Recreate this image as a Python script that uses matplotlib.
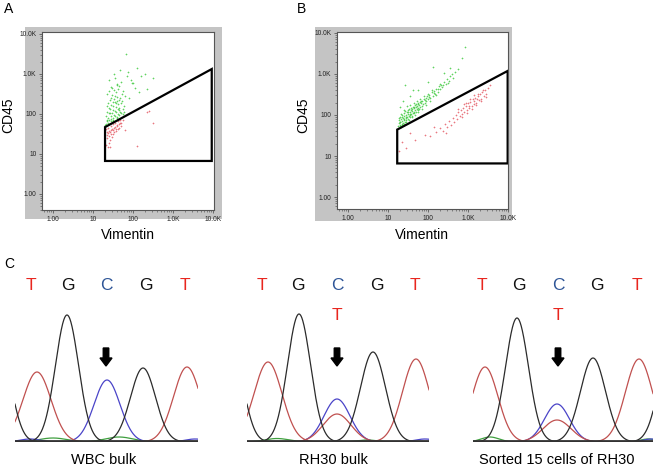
import numpy as np
import matplotlib.pyplot as plt
from matplotlib.patches import Rectangle, Polygon
from matplotlib.ticker import FixedLocator, LogLocator, NullFormatter

plt.rcParams['font.family'] = ['Liberation Sans', 'DejaVu Sans']

W, H = 658, 466

# --- flow cytometry data (log10 Vimentin, log10 CD45) ---
tick_vals = [1, 10, 100, 1000, 10000]
tick_labels = ['1.00', '10', '100', '1.0K', '10.0K']

gate_A = [(20, 47), (9300, 1330), (9300, 6.7), (20, 6.7)]
gate_B = [(17, 44), (9800, 1180), (9800, 6.6), (17, 6.6)]

green_A = [(1.32, 1.76), (1.35, 1.82), (1.38, 1.90), (1.41, 1.84), (1.44, 1.95), (1.47, 2.02),
           (1.50, 1.86), (1.53, 1.98), (1.56, 2.08), (1.59, 1.93), (1.62, 2.12), (1.65, 1.97),
           (1.36, 2.05), (1.40, 2.15), (1.45, 2.22), (1.49, 2.10), (1.54, 2.30), (1.58, 2.18),
           (1.63, 2.25), (1.68, 2.04), (1.33, 1.95), (1.37, 2.28), (1.42, 2.35), (1.46, 2.40),
           (1.51, 2.20), (1.55, 2.45), (1.60, 2.32), (1.66, 2.15), (1.71, 2.02), (1.34, 2.50),
           (1.39, 2.58), (1.43, 2.12), (1.48, 2.65), (1.52, 2.38), (1.57, 2.55), (1.61, 2.42),
           (1.64, 2.70), (1.69, 2.28), (1.74, 2.00), (1.31, 1.72), (1.38, 1.78), (1.44, 1.83),
           (1.50, 1.91), (1.56, 1.94), (1.62, 2.00), (1.35, 2.20), (1.41, 2.02), (1.47, 2.48),
           (1.53, 2.60), (1.59, 2.75), (1.65, 2.36), (1.72, 2.50), (1.78, 2.20), (1.40, 2.85),
           (1.46, 2.68), (1.55, 2.90), (1.63, 2.62), (1.70, 2.80), (1.80, 2.45), (1.85, 2.95),
           (1.52, 3.00), (1.60, 2.72), (1.68, 3.10), (1.75, 2.58), (1.90, 2.40), (1.95, 2.85),
           (2.05, 2.65), (1.88, 3.05), (2.10, 3.15), (2.20, 2.95), (2.35, 2.62), (2.50, 2.90),
           (1.82, 3.50), (1.98, 2.78), (2.15, 2.55), (1.45, 1.88), (1.58, 2.05), (1.76, 2.12),
           (2.30, 3.00), (2.00, 2.78), (1.43, 2.03), (1.57, 2.27), (1.67, 2.40), (1.73, 2.33),
           (1.36, 1.86), (1.61, 1.90), (1.49, 2.31), (1.77, 2.04), (1.64, 2.10), (1.51, 1.82)]
red_A = [(1.32, 1.62), (1.35, 1.55), (1.38, 1.65), (1.41, 1.58), (1.44, 1.70), (1.47, 1.62),
         (1.50, 1.74), (1.53, 1.66), (1.56, 1.78), (1.59, 1.70), (1.62, 1.82), (1.65, 1.75),
         (1.68, 1.84), (1.71, 1.78), (1.74, 1.86), (1.34, 1.48), (1.37, 1.52), (1.40, 1.45),
         (1.43, 1.55), (1.46, 1.50), (1.49, 1.60), (1.52, 1.56), (1.55, 1.68), (1.58, 1.63),
         (1.61, 1.72), (1.64, 1.66), (1.67, 1.77), (1.70, 1.70), (1.36, 1.40), (1.42, 1.35),
         (1.48, 1.42), (1.39, 1.28), (1.45, 1.60), (1.51, 1.50), (1.57, 1.58), (1.63, 1.62),
         (1.37, 1.17), (1.33, 1.22), (1.42, 1.18), (2.10, 1.20), (2.50, 1.78), (2.35, 2.05),
         (2.40, 2.08), (1.80, 1.60)]

green_B = [(1.26, 1.72), (1.27, 1.80), (1.28, 1.88), (1.29, 1.75), (1.30, 1.95), (1.31, 1.83),
           (1.32, 1.70), (1.33, 1.90), (1.34, 1.78), (1.35, 2.00), (1.36, 1.86), (1.37, 1.93),
           (1.38, 1.80), (1.39, 2.05), (1.40, 1.88), (1.41, 1.97), (1.42, 1.84), (1.43, 2.10),
           (1.44, 1.92), (1.45, 2.00), (1.46, 1.87), (1.47, 2.06), (1.48, 1.95), (1.49, 2.12),
           (1.50, 1.90), (1.51, 2.02), (1.52, 1.98), (1.53, 2.15), (1.54, 1.95), (1.55, 2.08),
           (1.56, 2.00), (1.57, 2.18), (1.58, 2.03), (1.59, 2.10), (1.60, 1.98), (1.61, 2.14),
           (1.62, 2.05), (1.63, 2.20), (1.64, 2.08), (1.65, 2.16), (1.66, 2.04), (1.67, 2.24),
           (1.68, 2.12), (1.69, 2.19), (1.70, 2.08), (1.71, 2.26), (1.72, 2.15), (1.73, 2.22),
           (1.74, 2.12), (1.75, 2.30), (1.76, 2.18), (1.77, 2.25), (1.78, 2.14), (1.79, 2.32),
           (1.80, 2.20), (1.82, 2.28), (1.84, 2.22), (1.86, 2.35), (1.88, 2.26), (1.90, 2.38),
           (1.92, 2.30), (1.94, 2.42), (1.96, 2.34), (1.98, 2.45), (2.00, 2.38), (2.03, 2.48),
           (2.06, 2.42), (2.09, 2.55), (2.12, 2.47), (2.15, 2.58), (2.18, 2.52), (2.21, 2.64),
           (2.24, 2.57), (2.27, 2.70), (2.30, 2.62), (2.33, 2.74), (2.36, 2.68), (2.40, 2.80),
           (2.44, 2.75), (2.48, 2.88), (2.52, 2.82), (2.56, 2.95), (2.62, 2.90), (2.68, 3.05),
           (2.75, 3.12), (1.27, 1.92), (1.30, 1.72), (1.33, 2.02), (1.36, 1.76), (1.40, 2.12),
           (1.44, 1.82), (1.48, 2.22), (1.52, 1.88), (1.56, 2.25), (1.60, 1.95), (1.64, 2.30),
           (1.68, 2.00), (1.72, 2.35), (1.76, 2.08), (1.80, 2.40), (1.85, 2.15), (1.90, 2.45),
           (1.95, 2.25), (2.00, 2.52), (2.05, 2.35), (2.10, 2.60), (2.20, 2.48), (2.30, 2.75),
           (1.43, 2.73), (1.63, 2.60), (2.13, 3.17), (1.55, 2.45), (1.38, 2.35), (2.85, 3.39),
           (2.92, 3.66), (2.55, 3.15), (2.40, 3.02), (1.30, 2.20), (1.75, 2.60), (2.00, 2.80),
           (1.29, 1.84), (1.34, 1.96), (1.39, 1.91), (1.45, 1.94), (1.51, 2.08), (1.58, 2.12),
           (1.66, 2.20), (1.74, 2.27), (1.83, 2.33), (1.93, 2.36), (2.02, 2.44), (2.14, 2.53),
           (2.26, 2.63), (2.38, 2.72), (2.50, 2.78), (2.60, 3.00), (1.41, 1.79), (1.54, 2.02)]
red_B = [(2.30, 1.68), (2.38, 1.62), (2.42, 1.78), (2.48, 1.70), (2.52, 1.85), (2.58, 1.75),
         (2.62, 1.92), (2.66, 1.82), (2.70, 2.00), (2.73, 1.90), (2.76, 2.08), (2.79, 1.97),
         (2.82, 2.12), (2.85, 2.02), (2.88, 2.18), (2.91, 2.06), (2.94, 2.22), (2.97, 2.12),
         (3.00, 2.28), (3.03, 2.16), (3.06, 2.32), (3.09, 2.22), (3.12, 2.38), (3.15, 2.26),
         (3.18, 2.42), (3.21, 2.30), (3.24, 2.46), (3.27, 2.36), (3.30, 2.50), (3.33, 2.40),
         (3.36, 2.55), (3.39, 2.46), (3.42, 2.60), (3.46, 2.52), (3.50, 2.66), (3.55, 2.73),
         (2.75, 2.14), (2.84, 1.95), (2.90, 2.26), (2.98, 2.04), (3.05, 2.38), (3.10, 2.15),
         (3.16, 2.48), (3.20, 2.24), (3.26, 2.52), (3.32, 2.34), (3.38, 2.60), (3.44, 2.44),
         (3.02, 2.22), (3.14, 2.34), (2.95, 2.30), (3.22, 2.40), (1.35, 1.34), (1.68, 1.39),
         (1.93, 1.51), (1.45, 1.20), (2.05, 1.48), (2.20, 1.58), (1.28, 1.12), (2.45, 1.55),
         (2.15, 1.70), (1.55, 1.55)]

# --- sequencing traces: (position, height, sigma) per base colour ---
bases = ['T', 'G', 'C', 'G', 'T']
base_colors = ['#e8261f', '#111111', '#2e5597', '#111111', '#e8261f']
titles = ['WBC bulk', 'RH30 bulk', 'Sorted 15 cells of RH30']
letter_pos = [[16, 53, 91, 131, 170], [15, 51, 90, 130, 168], [9, 46, 85, 124, 164]]
mutant_shown = [False, True, True]

peaks_black = [[(-14, 85, 11), (52, 127, 11.5), (128, 74, 12.5)],
               [(-14, 85, 11), (52, 128, 11.5), (126, 90, 12.5)],
               [(44, 124, 11.5), (120, 84, 12.5), (198, 95, 12)]]
peaks_red = [[(22, 70, 14), (172, 75, 13.5)],
             [(21, 80, 14), (90, 28, 14), (169, 83, 13.5)],
             [(12, 75, 13), (84, 22, 14), (166, 83, 13.5)]]
peaks_blue = [[(92, 62, 13), (15, 3, 10), (180, 3, 10)],
              [(90, 43, 13), (178, 3, 10)],
              [(84, 38, 12.5), (178, 3, 8)]]
peaks_green = [[(38, 4, 14), (104, 5, 14)],
               [(30, 3.5, 12), (120, 2, 10)],
               [(17, 5, 9), (175, 3, 8)]]

fig = plt.figure(figsize=(W / 100, H / 100), dpi=100)


def rect(x0, y0, x1, y1):
    return [x0 / W, 1 - y1 / H, (x1 - x0) / W, (y1 - y0) / H]


def flow_panel(gray, box, xlog, ylog, gate, green, red, cd45_x, vim_x, letter, letter_x):
    fig.patches.append(Rectangle((gray[0] / W, 1 - gray[3] / H), (gray[2] - gray[0]) / W,
                                 (gray[3] - gray[1]) / H, transform=fig.transFigure,
                                 facecolor='#c4c4c4', edgecolor='none', zorder=-10))
    ax = fig.add_axes(rect(*box))
    ax.set_xscale('log')
    ax.set_yscale('log')
    ax.set_xlim(10 ** xlog[0], 10 ** xlog[1])
    ax.set_ylim(10 ** ylog[0], 10 ** ylog[1])
    g = np.array(green)
    r = np.array(red)
    ax.scatter(10 ** g[:, 0], 10 ** g[:, 1], s=2, marker='+', color='#45cc45',
               linewidths=0.45, alpha=0.85)
    ax.scatter(10 ** r[:, 0], 10 ** r[:, 1], s=2, marker='+', color='#e5606a',
               linewidths=0.45, alpha=0.85)
    ax.add_patch(Polygon(gate, closed=True, fill=False, edgecolor='black', lw=1.6))
    for axis in (ax.xaxis, ax.yaxis):
        axis.set_major_locator(FixedLocator(tick_vals))
        axis.set_minor_locator(LogLocator(base=10, subs=np.arange(2, 10)))
        axis.set_minor_formatter(NullFormatter())
    ax.set_xticklabels(tick_labels)
    ax.set_yticklabels(tick_labels)
    ax.tick_params(which='major', length=2.5, width=0.5, labelsize=4.8, pad=1.5,
                   colors='#444444', labelcolor='#222222')
    ax.tick_params(which='minor', length=1.5, width=0.4, colors='#444444')
    for s in ax.spines.values():
        s.set_color('#555555')
        s.set_linewidth(0.8)
    fig.text(cd45_x / W, 1 - 115 / H, 'CD45', rotation=90, ha='center', va='center', fontsize=10)
    fig.text(vim_x / W, 1 - 235 / H, 'Vimentin', ha='center', va='center', fontsize=10)
    fig.text(letter_x / W, 1 - 2 / H, letter, ha='left', va='top', fontsize=10)


flow_panel((25, 27, 222, 219), (42, 32, 214, 210), (-0.275, 4.025), (-0.4, 4.05),
           gate_A, green_A, red_A, 8, 128, 'A', 4)
flow_panel((315, 27, 512, 221), (337, 32, 508, 209), (-0.275, 4.0), (-0.29, 4.02),
           gate_B, green_B, red_B, 303, 422, 'B', 297)

fig.text(4 / W, 1 - 257 / H, 'C', ha='left', va='top', fontsize=10)

chrom_boxes = [(15, 198), (247, 429), (473, 653)]
title_x = [104, 333, 557]
top_px, base_px = 270, 442

for i, (x0, x1) in enumerate(chrom_boxes):
    ax = fig.add_axes(rect(x0, top_px, x1, base_px))
    width = x1 - x0
    ax.set_xlim(0, width)
    ax.set_ylim(0, base_px - top_px)
    xs = np.linspace(0, width, 800)
    for peaks, col in [(peaks_green[i], '#3f9f3f'), (peaks_blue[i], '#4a44c8'),
                       (peaks_red[i], '#c0504f'), (peaks_black[i], '#2b2b2b')]:
        for pos, h, sg in peaks:
            ax.plot(xs, h * np.exp(-0.5 * ((xs - pos) / sg) ** 2), color=col, lw=0.9)
    ax.axhline(0.6, color='#333333', lw=1.3)
    for j, b in enumerate(bases):
        ax.text(letter_pos[i][j], 157, b, color=base_colors[j], ha='center', va='center',
                fontsize=12.5, clip_on=False)
    if mutant_shown[i]:
        ax.text(letter_pos[i][2], 126, 'T', color='#e8261f', ha='center', va='center',
                fontsize=12.5, clip_on=False)
    ax.arrow(letter_pos[i][2], 94, 0, -18, width=5.5, head_width=12, head_length=8,
             length_includes_head=True, color='black')
    ax.axis('off')
    fig.text(title_x[i] / W, 1 - 460 / H, titles[i], ha='center', va='center', fontsize=10.5)

fig.savefig('out.png', dpi=100)
